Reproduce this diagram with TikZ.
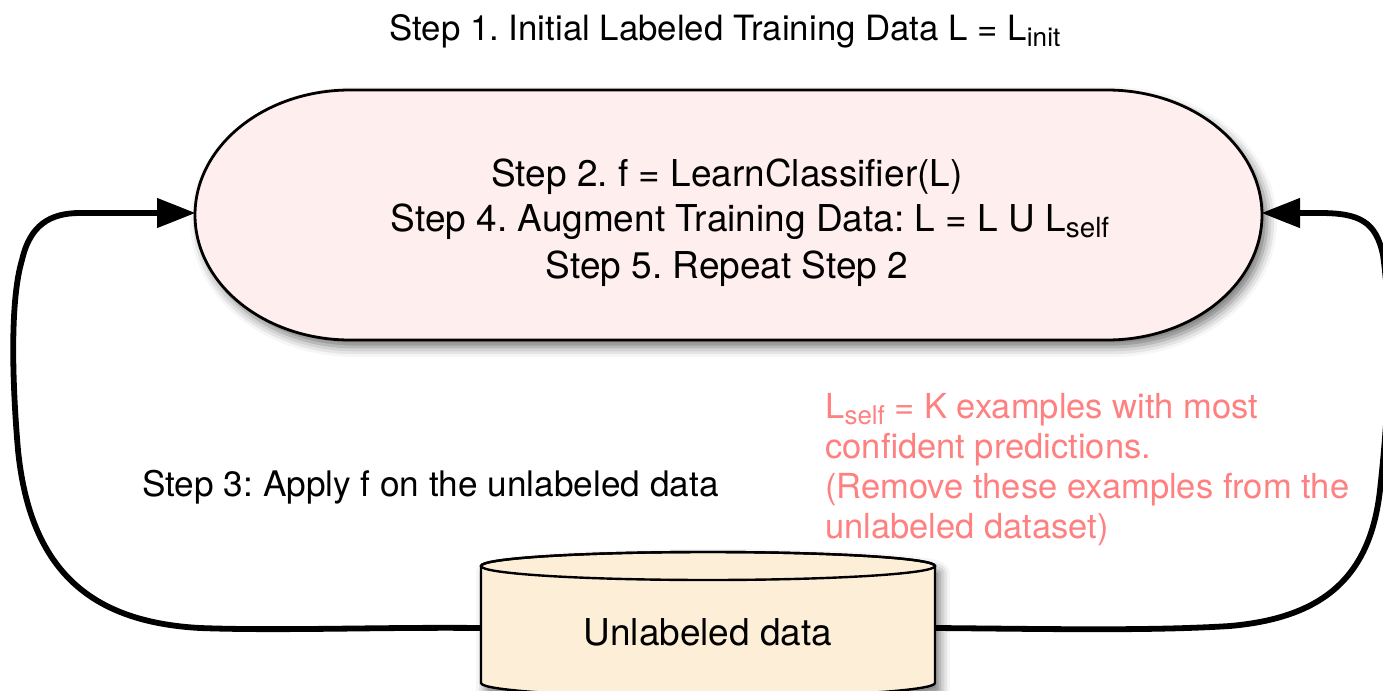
\documentclass[tikz,border=0pt]{standalone}
\usepackage{fontspec}
\setmainfont{TeX Gyre Heros}
\usepackage{graphicx}
\usetikzlibrary{arrows.meta,shadows.blur}
\definecolor{stadfill}{RGB}{255,238,238}
\definecolor{dbfill}{RGB}{253,238,216}
\definecolor{redtxt}{RGB}{255,128,128}
\newcommand\lowsub[1]{\raisebox{-0.35ex}{\scalebox{0.75}{#1}}}
\frenchspacing
\begin{document}
\begin{tikzpicture}[x=0.5pt,y=-0.5pt,
  conn/.style={line width=2.9pt, -{Triangle[length=19pt,width=15pt,fill=black,line width=0.5pt]}},
  shapeshadow/.style={blur shadow={shadow xshift=2.5pt, shadow yshift=-3.5pt, shadow blur radius=5pt, shadow opacity=55}},
  txt/.style={inner sep=0pt, font=\fontsize{18.5}{23}\selectfont},
  ttl/.style={inner sep=0pt, font=\fontsize{17.4}{21}\selectfont},
  redt/.style={inner sep=0pt, align=left, text=redtxt, font=\fontsize{17.25}{20}\selectfont}]
\useasboundingbox (0,0) rectangle (1383,691);
\clip (0,0) rectangle (1383,691);

% stadium
\path[fill=stadfill, draw=black, line width=1.4pt, shapeshadow]
  (350,90) -- (1107,90) arc[start angle=-90, end angle=90, x radius=155, y radius=125]
  -- (350,340) arc[start angle=90, end angle=270, x radius=155, y radius=125] -- cycle;
\coordinate (stadL) at (195,213);
\coordinate (stadR) at (1262,213);

% cylinder
\path[fill=dbfill, draw=black, line width=1.2pt, shapeshadow]
  (481,566) -- (481,683) arc[start angle=180, end angle=0, x radius=227, y radius=14]
  -- (935,566) arc[start angle=0, end angle=-180, x radius=227, y radius=14] -- cycle;
\draw[line width=1.2pt] (708,566) ellipse [x radius=227, y radius=14];
\node[minimum width=227pt, minimum height=58pt, inner sep=0pt] (db) at (708,628) {};

% texts
\node[ttl, anchor=base] (t1) at (725,40) {Step 1. Initial Labeled Training Data L = L\lowsub{init}};
\node[txt, anchor=base] (t2) at (727,186) {Step 2. f = LearnClassifier(L)};
\node[txt, anchor=base] (t4) at (750,231) {Step 4. Augment Training Data: L = L U L\lowsub{self}};
\node[txt, anchor=base] (t5) at (727,278) {Step 5. Repeat Step 2};
\node[txt, anchor=base west, font=\fontsize{17.6}{22}\selectfont] (t3) at (142,496) {Step 3: Apply f on the unlabeled data};
\node[txt, anchor=base] (dbtxt) at (708,645) {Unlabeled data};
\node[redt, anchor=north west] (note) at (825,393) {L\lowsub{self} = K examples with most\\confident predictions.\\(Remove these examples from the\\unlabeled dataset)};

% connectors
\draw[conn] (db.west) .. controls (380,627) and (280,631) .. (200,628)
  .. controls (90,622) and (30,570) .. (18,450)
  .. controls (12,380) and (10,300) .. (22,260)
  .. controls (30,225) and (50,213) .. (80,213) -- (stadL);
\draw[conn] (db.east) .. controls (1050,629) and (1150,631) .. (1230,626)
  .. controls (1320,618) and (1370,580) .. (1380,490)
  .. controls (1390,400) and (1392,320) .. (1383,255)
  .. controls (1376,222) and (1360,213) .. (1320,213) -- (stadR);
\end{tikzpicture}
\end{document}
